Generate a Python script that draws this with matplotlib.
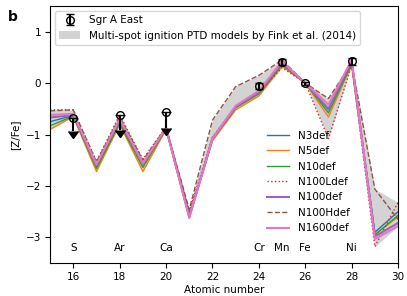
import numpy as np
import matplotlib.pyplot as plt

# atomic numbers for the model curves
z = np.arange(15, 31)

models = {
    'N3def':    [-0.75, -0.63, -1.63, -0.75, -1.58, -0.88, -2.58, -1.08, -0.47, -0.20, 0.38, 0.0, -0.52, 0.38, -2.90, -2.50],
    'N5def':    [-0.90, -0.65, -1.72, -0.80, -1.72, -0.90, -2.62, -1.12, -0.52, -0.25, 0.33, 0.0, -0.66, 0.36, -2.95, -2.60],
    'N10def':   [-0.83, -0.64, -1.66, -0.78, -1.64, -0.89, -2.60, -1.10, -0.48, -0.21, 0.36, 0.0, -0.58, 0.37, -2.95, -2.57],
    'N100Ldef': [-0.52, -0.52, -1.52, -0.62, -1.48, -0.85, -2.50, -1.05, -0.45, -0.18, 0.30, 0.0, -1.08, 0.35, -3.18, -2.32],
    'N100def':  [-0.67, -0.62, -1.60, -0.72, -1.58, -0.87, -2.60, -1.08, -0.46, -0.18, 0.40, 0.0, -0.50, 0.42, -2.98, -2.72],
    'N100Hdef': [-0.54, -0.52, -1.53, -0.66, -1.50, -0.86, -2.46, -0.72, -0.07, 0.15, 0.45, 0.0, -0.30, 0.38, -2.06, -2.65],
    'N1600def': [-0.62, -0.60, -1.58, -0.70, -1.56, -0.87, -2.62, -1.08, -0.44, -0.15, 0.42, 0.0, -0.42, 0.45, -3.03, -2.78],
}

# Sgr A East measurements
obs_z = [24, 25, 26, 28]
obs_val = [-0.05, 0.41, 0.0, 0.42]
obs_err = [0.06, 0.06, 0.03, 0.07]

# upper limits
lim_z = [16, 18, 20]
lim_val = [-0.67, -0.63, -0.57]
lim_len = [0.27, 0.28, 0.30]

elem_z = [16, 18, 20, 24, 25, 26, 28]
elem_names = ['S', 'Ar', 'Ca', 'Cr', 'Mn', 'Fe', 'Ni']

plt.rcParams['font.size'] = 7.5

fig, ax = plt.subplots(figsize=(4.07, 2.96), dpi=100)

arr = np.array(list(models.values()))
fill = ax.fill_between(z, arr.min(axis=0), arr.max(axis=0), color='lightgrey', lw=0)

styles = {
    'N3def': dict(color='C0', ls='-', lw=1),
    'N5def': dict(color='C1', ls='-', lw=1),
    'N10def': dict(color='C2', ls='-', lw=1),
    'N100Ldef': dict(color='C3', ls=':', lw=1),
    'N100def': dict(color='C4', ls='-', lw=1.5),
    'N100Hdef': dict(color='C5', ls='--', lw=1),
    'N1600def': dict(color='C6', ls='-', lw=1.5),
}
line_handles = []
for name, vals in models.items():
    h, = ax.plot(z, vals, label=name, **styles[name])
    line_handles.append(h)

eb = ax.errorbar(obs_z, obs_val, yerr=obs_err, fmt='o', mfc='none', mec='k', ecolor='k',
                 ms=5.5, capsize=3, zorder=5)
# upper limits: open circle plus filled downward arrow
ax.errorbar(lim_z, lim_val, yerr=[lim_len, np.zeros(3)], uplims=True, fmt='none',
            color='k', ecolor='k', capsize=3.5, zorder=5)
ax.plot(lim_z, lim_val, 'o', mfc='none', mec='k', ms=5.5, zorder=6)

for zz, nm in zip(elem_z, elem_names):
    ax.text(zz, -3.2, nm, ha='center', va='center')

ax.set_xlim(15, 30)
ax.set_ylim(-3.5, 1.5)
ax.set_xticks([16, 18, 20, 22, 24, 26, 28, 30])
ax.set_yticks([-3, -2, -1, 0, 1])
ax.tick_params(pad=3)
ax.set_xlabel('Atomic number', labelpad=2)
ax.set_ylabel('[Z/Fe]')

leg1 = ax.legend([eb, fill], ['Sgr A East', 'Multi-spot ignition PTD models by Fink et al. (2014)'],
                 loc='upper left', handlelength=2)
ax.add_artist(leg1)
ax.legend(handles=line_handles, loc='lower right', bbox_to_anchor=(0.888, 0.08), frameon=False,
          handlelength=2.2, labelspacing=0.52)

fig.text(0.02, 0.93, 'b', fontweight='bold', fontsize=10)

fig.subplots_adjust(left=0.123, right=0.978, top=0.98, bottom=0.111)
fig.savefig('out.png')
